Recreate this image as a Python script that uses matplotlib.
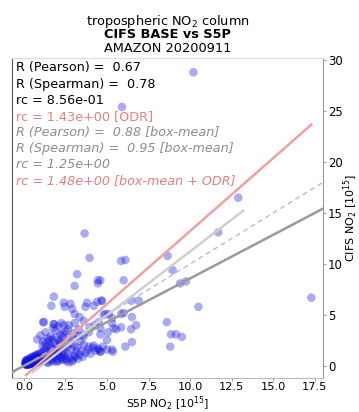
import matplotlib
matplotlib.use("Agg")
import matplotlib.pyplot as plt
import numpy as np

# ---------------- data ----------------
# dense core near origin
core_x = [0.08,0.12,0.15,0.18,0.22,0.25,0.28,0.31,0.35,0.38,0.42,0.45,0.48,0.52,0.55,0.58,0.62,0.65,0.68,0.72,0.75,0.78,0.82,0.85,0.88,0.92,0.95,0.98,
          0.1,0.14,0.2,0.24,0.3,0.34,0.4,0.44,0.5,0.54,0.6,0.64,0.7,0.74,0.8,0.84,0.9,0.94,1.0,
          0.16,0.26,0.36,0.46,0.56,0.66,0.76,0.86,0.96]
core_y = [0.15,0.22,0.1,0.3,0.18,0.35,0.12,0.28,0.4,0.2,0.33,0.48,0.25,0.38,0.55,0.3,0.45,0.62,0.35,0.5,0.7,0.4,0.58,0.75,0.45,0.65,0.82,0.5,
          0.4,0.55,0.6,0.12,0.7,0.2,0.8,0.25,0.9,0.3,0.95,0.28,1.05,0.32,1.1,0.36,1.2,0.3,1.25,
          0.2,0.5,0.65,0.72,0.2,0.85,1.0,0.25,0.6]
mid_x = [1.05,1.1,1.15,1.2,1.25,1.3,1.35,1.4,1.45,1.5,1.55,1.6,1.65,1.7,1.75,1.8,1.85,1.9,1.95,2.0,2.05,2.1,2.15,2.2,2.25,2.3,2.35,2.4,2.45,2.5,
         1.08,1.18,1.28,1.38,1.48,1.58,1.68,1.78,1.88,1.98,2.08,2.18,2.28,2.38,2.48,
         1.12,1.32,1.52,1.72,1.92,2.12,2.32]
mid_y = [0.4,1.3,0.7,1.6,0.5,1.0,1.9,0.35,1.4,0.8,2.1,0.55,1.2,1.7,0.45,2.3,0.9,1.35,0.6,2.0,1.1,0.5,1.6,0.85,2.4,1.25,0.6,1.8,1.0,0.7,
         0.9,0.6,1.5,0.9,0.3,1.8,0.75,1.1,1.5,0.4,1.3,2.2,0.8,1.4,2.0,
         2.0,2.3,2.5,2.6,2.8,2.5,2.9]
low_x = [2.55,2.65,2.75,2.85,2.95,3.05,3.15,3.25,3.35,3.45,3.55,3.7,3.85,4.0,4.15,4.3,4.45,4.6,
         2.6,2.8,3.0,3.2,3.4,3.6,3.9,4.2,4.5,2.7,2.9,3.1]
low_y = [0.5,1.2,0.8,1.6,0.6,1.0,1.4,0.7,1.1,1.5,0.9,1.3,1.6,1.2,1.8,1.5,1.7,1.4,
         1.9,2.2,2.0,1.8,2.4,2.1,1.9,2.0,1.6,0.35,0.45,0.9]
up_x = [0.8,1.0,1.3,1.6,1.9,2.2,2.5,2.7,3.0,3.3,3.6,3.9,1.15,1.45,1.75,2.05,2.35,2.65,2.95,3.25,3.55,1.2,1.8,2.4]
up_y = [2.6,3.0,3.3,2.9,3.5,3.1,3.4,2.8,3.2,3.6,2.9,3.3,2.4,2.7,3.7,3.9,3.2,3.6,2.7,2.95,3.1,4.3,4.1,4.0]
sparse_x = [1.15,1.8,2.25,2.7,3.05,3.35,3.6,3.95,4.25,4.5,2.4,2.8,2.45,2.9,3.05,3.8,3.7,4.2,1.8,1.65,
            10.2,5.9,12.9,11.7,17.3,8.65,8.95,9.4,9.75,10.5,8.6,8.85,9.15,9.5,8.8,5.85,6.1,6.0,6.45,6.9,
            4.7,4.9,5.85,6.0,5.3,5.3,4.6,5.85,5.55,5.05,6.45,6.75,4.6,5.0,6.5,6.1,4.75,5.0,5.3,5.35,
            4.6,4.6,3.65,3.95,3.2,3.05,4.45,4.45,4.4,4.65,6.5,5.4,4.8,5.1]
sparse_y = [4.3,4.1,4.2,4.0,4.2,4.8,4.4,3.8,4.0,4.3,6.2,6.1,5.8,5.6,5.1,6.2,5.8,5.9,6.8,5.9,
            28.8,25.4,16.5,13.1,6.7,10.8,9.4,8.1,8.3,5.8,4.3,3.1,3.1,2.85,1.9,10.3,10.4,8.4,6.4,6.4,
            6.4,5.1,5.1,5.2,4.7,4.2,3.7,3.8,3.6,3.3,3.6,4.0,3.1,2.55,2.35,1.9,1.9,1.6,1.6,1.4,
            1.4,8.4,13.0,10.6,9.0,7.85,8.4,8.1,6.3,6.4,4.8,3.7,5.0,5.1]

x_all = core_x + core_x[:30] + mid_x + low_x + up_x + sparse_x
y_all = core_y + [v * 0.9 + 0.05 for v in core_y[:30]] + mid_y + low_y + up_y + sparse_y

# regression lines (slope, intercept, x-range)
fit_slope, fit_icpt = 0.856, 0.02
odr_slope, odr_icpt, odr_range = 1.43, -1.07, (0.12, 17.3)
box_slope, box_icpt, box_range = 1.25, -1.27, (0.54, 13.2)

stats_lines = ["R (Pearson) =  0.67", "R (Spearman) =  0.78", "rc = 8.56e-01",
               "rc = 1.43e+00 [ODR]", "R (Pearson) =  0.88 [box-mean]",
               "R (Spearman) =  0.95 [box-mean]", "rc = 1.25e+00",
               "rc = 1.48e+00 [box-mean + ODR]"]
stats_colors = ["black", "black", "black", "#e87f7f", "#8c8c8c", "#8c8c8c", "#8c8c8c", "#e87f7f"]
stats_styles = ["normal"] * 4 + ["italic"] * 4

xlim = (-0.72, 18.0)
ylim = (-1.18, 30.2)

# ---------------- plot ----------------
W, H = 359, 412
fig = plt.figure(figsize=(W / 100, H / 100), dpi=100)
ax = fig.add_axes([12 / W, 1 - 378 / H, (323 - 12) / W, (378 - 58) / H])

ax.scatter(x_all, y_all, s=38, color="#1010e0", alpha=0.35, edgecolors="none", zorder=2)

xx = np.array(xlim)
ax.plot(xx, xx, ls=(0, (4, 3)), color="#b0b0e8", lw=0.9, zorder=3)
ax.plot(xx, fit_slope * xx + fit_icpt, color="#9a9a9a", lw=1.8, zorder=3)
xo = np.array(odr_range)
ax.plot(xo, odr_slope * xo + odr_icpt, color="#f0a0a0", lw=1.8, zorder=3)
xb = np.array(box_range)
ax.plot(xb, box_slope * xb + box_icpt, color="#cfcfcf", lw=1.8, zorder=3)

ax.set_xlim(*xlim)
ax.set_ylim(*ylim)
ax.set_xticks([0, 2.5, 5, 7.5, 10, 12.5, 15, 17.5])
ax.set_xticklabels(["0.0", "2.5", "5.0", "7.5", "10.0", "12.5", "15.0", "17.5"])
ax.set_yticks([0, 5, 10, 15, 20, 25, 30])
ax.yaxis.tick_right()
ax.tick_params(axis="y", labelsize=8.4, length=2.5, width=0.6, color="#888888", pad=1)
ax.tick_params(axis="x", labelsize=8.2, length=2, width=0.6, color="#888888", pad=0.6)

ax.spines["left"].set_color("#555555")
ax.spines["right"].set_color("#999999")
ax.spines["top"].set_color("#dddddd")
ax.spines["bottom"].set_color("#bbbbbb")
for s in ax.spines.values():
    s.set_linewidth(0.8)

fig.text(167.5 / W, 1 - 404 / H, r"S5P NO$_2$ [10$^{15}$]", fontsize=7.8, ha="center", va="center")
fig.text(350.5 / W, 1 - 218 / H, r"CIFS NO$_2$ [10$^{15}$]", fontsize=8.0, ha="center", va="center",
         rotation=90)

for i, (t, c, st) in enumerate(zip(stats_lines, stats_colors, stats_styles)):
    py = 68 + 16.1 * i
    ax.text(4 / 311, 1 - (py - 58) / 320, t, transform=ax.transAxes, color=c,
            fontsize=9.2, style=st, va="center", ha="left", zorder=5)

cx = (12 + 323) / 2 / W
fig.text(cx, 1 - 21 / H, r"tropospheric NO$_2$ column", ha="center", va="center", fontsize=9.3)
fig.text(cx, 1 - 35 / H, "CIFS BASE vs S5P", ha="center", va="center", fontsize=9.3, fontweight="bold")
fig.text(cx, 1 - 49 / H, "AMAZON 20200911", ha="center", va="center", fontsize=9.3)

fig.savefig("out.png", dpi=100)
